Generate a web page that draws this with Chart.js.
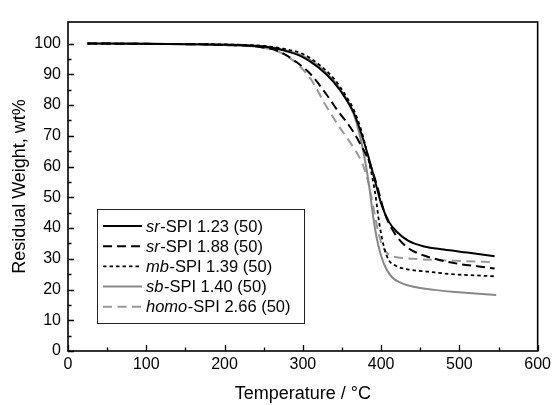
<!DOCTYPE html>
<html>
<head>
<meta charset="utf-8">
<script src="https://cdn.jsdelivr.net/npm/chart.js@4.4.0/dist/chart.umd.min.js"></script>
<style>
  html, body { margin: 0; padding: 0; background: #fff; }
  #wrap { width: 555px; height: 405px; }
</style>
</head>
<body>
<div id="wrap"><canvas id="tgaChart" width="555" height="405"></canvas></div>
<script>
// Datos (temperatura en °C, peso residual en wt%)
const tSr123 = [25, 100, 200, 250, 275, 300, 320, 340, 355, 365, 375, 384, 392, 400, 410, 420, 435, 455, 480, 510, 545];
const wSr123 = [100, 99.9, 99.6, 99.0, 97.8, 95.6, 92.2, 87.3, 82, 77.5, 70.5, 63, 55.5, 48, 42, 38.8, 35.8, 34, 33, 32, 30.8];

const tSr188 = [25, 100, 200, 250, 270, 290, 310, 330, 345, 360, 372, 384, 394, 405, 418, 432, 447, 470, 500, 525, 545];
const wSr188 = [100, 99.9, 99.5, 98.7, 97.4, 94.3, 90, 83.5, 78, 73, 68, 62, 54.5, 44.5, 38, 34, 31.8, 29.9, 28.3, 27.5, 26.8];

const tMb139 = [25, 100, 200, 250, 275, 300, 320, 340, 355, 365, 375, 385, 392, 398, 404, 410, 418, 435, 460, 490, 520, 545];
const wMb139 = [100, 99.9, 99.7, 99.2, 98.3, 96.6, 93.3, 88.5, 83, 78.5, 71.5, 61, 52, 41, 33.5, 29.5, 27.8, 26.5, 25.8, 25, 24.6, 24.3];

const tSb140 = [25, 100, 200, 250, 275, 300, 320, 340, 355, 365, 372, 378, 384, 390, 395, 400, 406, 414, 424, 435, 450, 470, 495, 520, 547];
const wSb140 = [100, 99.9, 99.7, 99.1, 98.0, 96.0, 92.8, 87.8, 82.3, 77, 71, 64, 55, 43.5, 36, 31, 27, 24, 22.3, 21.3, 20.5, 19.8, 19.2, 18.7, 18.2];

const tHomo266 = [25, 100, 200, 250, 270, 290, 310, 329, 345, 360, 370, 376, 383, 390, 396, 402, 410, 420, 440, 470, 500, 545];
const wHomo266 = [100, 99.9, 99.5, 98.6, 97.2, 94, 88.5, 80, 73.5, 68, 64, 61, 55.5, 47, 39, 34, 31.3, 30.5, 30, 29.6, 29.3, 28.9];

// Etiquetas de la leyenda: [parte en cursiva, resto]
const seriesNames = [
    ['sr', '-SPI 1.23 (50)'],
    ['sr', '-SPI 1.88 (50)'],
    ['mb', '-SPI 1.39 (50)'],
    ['sb', '-SPI 1.40 (50)'],
    ['homo', '-SPI 2.66 (50)']
];

const xTicks = [0, 100, 200, 300, 400, 500, 600];
const yTicks = [0, 10, 20, 30, 40, 50, 60, 70, 80, 90, 100];

const FONT = '"Liberation Sans", Arial, Helvetica, sans-serif';
Chart.defaults.font.family = FONT;
Chart.defaults.color = '#000';

function toPoints(ts, ws) {
    return ts.map((t, i) => ({ x: t, y: ws[i] }));
}

function makeSet(name, ts, ws, color, dash, width) {
    return {
        label: name.join(''),
        italicPart: name[0],
        restPart: name[1],
        data: toPoints(ts, ws),
        borderColor: color,
        borderDash: dash,
        borderWidth: width,
        pointRadius: 0,
        fill: false,
        cubicInterpolationMode: 'monotone'
    };
}

// Marco, marcas de los ejes hacia adentro
const frameTicks = {
    id: 'frameTicks',
    afterDatasetsDraw(chart) {
        const { ctx, chartArea: a, scales: { x, y } } = chart;
        ctx.save();
        ctx.strokeStyle = '#000';
        ctx.lineWidth = 1.6;
        ctx.strokeRect(a.left, a.top, a.right - a.left, a.bottom - a.top);
        ctx.lineWidth = 1.3;
        ctx.beginPath();
        for (let v = 0; v <= 600; v += 50) {
            const px = Math.round(x.getPixelForValue(v)) + 0.5;
            const len = v % 100 === 0 ? 6 : 3.5;
            ctx.moveTo(px, a.bottom);
            ctx.lineTo(px, a.bottom - len);
        }
        for (let v = 0; v <= 100; v += 5) {
            const py = Math.round(y.getPixelForValue(v)) + 0.5;
            const len = v % 10 === 0 ? 6 : 3.5;
            ctx.moveTo(a.left, py);
            ctx.lineTo(a.left + len, py);
        }
        ctx.stroke();
        ctx.restore();
    }
};

// Leyenda dentro del área del gráfico
const boxLegend = {
    id: 'boxLegend',
    afterDraw(chart) {
        const ctx = chart.ctx;
        const left = 97, top = 209, right = 304, bottom = 323;
        ctx.save();
        ctx.fillStyle = '#fff';
        ctx.fillRect(left, top, right - left, bottom - top);
        ctx.strokeStyle = '#222';
        ctx.lineWidth = 1;
        ctx.strokeRect(left + 0.5, top + 0.5, right - left, bottom - top);
        chart.data.datasets.forEach((ds, i) => {
            const cy = 226 + i * 20.2;
            ctx.beginPath();
            ctx.strokeStyle = ds.borderColor;
            ctx.lineWidth = ds.borderWidth;
            ctx.setLineDash(ds.borderDash);
            ctx.moveTo(103, cy);
            ctx.lineTo(142, cy);
            ctx.stroke();
            ctx.setLineDash([]);
            ctx.fillStyle = '#000';
            ctx.textBaseline = 'middle';
            ctx.font = 'italic 16.5px ' + FONT;
            ctx.fillText(ds.italicPart, 146, cy + 1);
            const w = ctx.measureText(ds.italicPart).width;
            ctx.font = '16.5px ' + FONT;
            ctx.fillText(ds.restPart, 146 + w + 0.5, cy + 1);
        });
        ctx.restore();
    }
};

const tgaCtx = document.getElementById('tgaChart').getContext('2d');
new Chart(tgaCtx, {
    type: 'line',
    data: {
        datasets: [
            makeSet(seriesNames[0], tSr123, wSr123, '#000000', [], 2),
            makeSet(seriesNames[1], tSr188, wSr188, '#000000', [9, 5], 2),
            makeSet(seriesNames[2], tMb139, wMb139, '#000000', [3.5, 3], 1.8),
            makeSet(seriesNames[3], tSb140, wSb140, '#888888', [], 2),
            makeSet(seriesNames[4], tHomo266, wHomo266, '#999999', [9, 5.5], 2)
        ]
    },
    options: {
        responsive: false,
        animation: false,
        devicePixelRatio: 1,
        layout: { padding: { top: 22, right: 15, left: 0, bottom: 0 } },
        plugins: {
            legend: { display: false },
            tooltip: { enabled: false }
        },
        scales: {
            x: {
                type: 'linear',
                min: 0,
                max: 600,
                afterFit: (s) => { s.height = 54; },
                afterBuildTicks: (s) => { s.ticks = xTicks.map(v => ({ value: v })); },
                grid: { display: false, drawTicks: false },
                border: { display: false },
                ticks: { color: '#000', font: { size: 16 }, padding: 4, maxRotation: 0, autoSkip: false },
                title: {
                    display: true,
                    text: 'Temperature / °C',
                    color: '#000',
                    font: { size: 18 },
                    padding: { top: 0, bottom: 0 }
                }
            },
            y: {
                type: 'linear',
                min: 0,
                max: 107,
                afterFit: (s) => { s.width = 68; },
                afterBuildTicks: (s) => { s.ticks = yTicks.map(v => ({ value: v })); },
                grid: { display: false, drawTicks: false },
                border: { display: false },
                ticks: { color: '#000', font: { size: 16 }, padding: 7, autoSkip: false },
                title: {
                    display: true,
                    text: 'Residual Weight, wt%',
                    color: '#000',
                    font: { size: 18 },
                    padding: { top: 9, bottom: 0 }
                }
            }
        }
    },
    plugins: [frameTicks, boxLegend]
});
</script>
</body>
</html>
